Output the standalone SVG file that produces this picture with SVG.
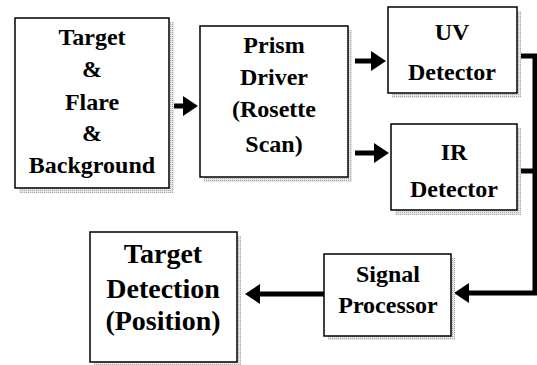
<svg xmlns="http://www.w3.org/2000/svg" width="537" height="365" viewBox="0 0 537 365">
<style>
.box{fill:#fff;stroke:#000;stroke-width:1.5}
.sh{fill:url(#stip)}
text{font-family:'Liberation Serif','Times New Roman','DejaVu Serif',serif;font-weight:bold;font-size:24px;text-anchor:middle;fill:#000}
.big{font-size:28px}
.c{stroke:#000;stroke-width:5;fill:none}
</style>
<defs>
<pattern id="stip" width="2" height="2" patternUnits="userSpaceOnUse">
<rect width="2" height="2" fill="#e6e6e6"/>
<rect width="1" height="1" fill="#a8a8a8"/>
</pattern>
<marker id="ah" markerWidth="4" markerHeight="4" refX="1" refY="2" orient="auto" markerUnits="strokeWidth">
<path d="M0,0 L3,2 L0,4 Z" fill="#000"/>
</marker>
</defs>
<rect width="537" height="365" fill="#fff"/>
<g id="connectors">
<line class="c" x1="169" y1="106" x2="188" y2="106" marker-end="url(#ah)"/>
<line class="c" x1="355" y1="61" x2="376" y2="61" marker-end="url(#ah)"/>
<line class="c" x1="355" y1="153" x2="379" y2="153" marker-end="url(#ah)"/>
<polyline class="c" points="517,56 535,56 535,293 464,293" marker-end="url(#ah)"/>
<line class="c" x1="517" y1="171" x2="535" y2="171"/>
<line class="c" x1="324" y1="294" x2="255" y2="294" marker-end="url(#ah)"/>
</g>
<g id="source">
<rect class="sh" x="19" y="22" width="155" height="171"/>
<rect class="box" x="15" y="18" width="154" height="170"/>
<text x="92" y="45">Target</text>
<text x="92" y="77">&amp;</text>
<text x="92" y="110">Flare</text>
<text x="92" y="141">&amp;</text>
<text x="92" y="173">Background</text>
</g>
<g id="prism">
<rect class="sh" x="204" y="30" width="148" height="152"/>
<rect class="box" x="200" y="26" width="148" height="151"/>
<text x="274" y="53">Prism</text>
<text x="274" y="85">Driver</text>
<text x="274" y="117">(Rosette</text>
<text x="274" y="152">Scan)</text>
</g>
<g id="uv">
<rect class="sh" x="392" y="11" width="129" height="87"/>
<rect class="box" x="388" y="7" width="129" height="86"/>
<text x="452" y="40">UV</text>
<text x="452" y="80">Detector</text>
</g>
<g id="ir">
<rect class="sh" x="395" y="128" width="126" height="87"/>
<rect class="box" x="391" y="124" width="126" height="86"/>
<text x="454" y="160">IR</text>
<text x="454" y="197">Detector</text>
</g>
<g id="signal">
<rect class="sh" x="328" y="258" width="127" height="82"/>
<rect class="box" x="324" y="254" width="127" height="82"/>
<text x="388" y="282">Signal</text>
<text x="388" y="313">Processor</text>
</g>
<g id="detection">
<rect class="sh" x="94" y="236" width="147" height="129"/>
<rect class="box" x="90" y="232" width="147" height="130"/>
<text class="big" x="163" y="263">Target</text>
<text class="big" x="163" y="298">Detection</text>
<text class="big" x="163" y="330">(Position)</text>
</g>
</svg>
